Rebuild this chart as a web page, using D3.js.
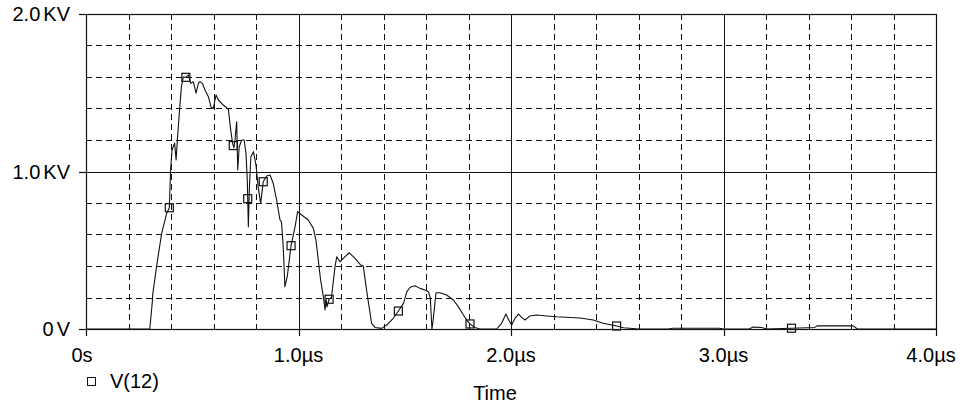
<!DOCTYPE html>
<html>
<head>
<meta charset="utf-8">
<script src="https://cdn.jsdelivr.net/npm/d3@7"></script>
<style>
  html, body { margin: 0; padding: 0; background: #fff; }
  svg { display: block; }
  text { font-family: "Liberation Sans", Arial, Helvetica, sans-serif; fill: #000; }
</style>
</head>
<body>
<svg id="chart" width="966" height="404"></svg>
<script>
// Transient voltage V(12): time in microseconds, voltage in kilovolts
const timeUs = [
  0, 0.30, 0.312, 0.314, 0.332, 0.356, 0.380, 0.392, 0.398, 0.405, 0.411, 0.417, 0.424, 0.430,
  0.439, 0.449, 0.458, 0.470, 0.482, 0.493, 0.505, 0.518, 0.529, 0.536, 0.549, 0.560,
  0.576, 0.588, 0.599, 0.612, 0.623, 0.646, 0.670, 0.681, 0.690, 0.696, 0.701, 0.709,
  0.714, 0.721, 0.733, 0.744, 0.753, 0.759, 0.764, 0.769, 0.776, 0.788, 0.800, 0.811,
  0.822, 0.834, 0.850, 0.866, 0.881, 0.897, 0.913, 0.920, 0.928, 0.936, 0.947, 0.965,
  0.984, 0.996, 1.015, 1.046, 1.070, 1.082, 1.093, 1.104, 1.117, 1.125, 1.130, 1.134,
  1.144, 1.155, 1.172, 1.180, 1.195, 1.219, 1.239, 1.266, 1.293, 1.305, 1.320, 1.344,
  1.360, 1.391, 1.415, 1.446, 1.470, 1.494, 1.510, 1.525, 1.548, 1.572, 1.595, 1.611,
  1.620, 1.628, 1.634, 1.647, 1.666, 1.697, 1.729, 1.752, 1.776, 1.795, 1.807, 1.830,
  1.854, 1.933, 1.956, 1.976, 1.990, 2.003, 2.019, 2.035, 2.050, 2.066, 2.089, 2.121,
  2.168, 2.215, 2.325, 2.387, 2.434, 2.474, 2.497, 2.530, 2.600, 2.740, 2.760, 2.980,
  3.000, 3.120, 3.140, 3.180, 3.200, 3.320, 3.430, 3.440, 3.610, 3.630, 4.000
];
const voltageKV = [
  0, 0, 0.17, 0.22, 0.396, 0.607, 0.735, 0.77, 1.01, 1.137, 1.16, 1.18, 1.073, 1.20,
  1.369, 1.539, 1.60, 1.598, 1.613, 1.56, 1.57, 1.497, 1.56, 1.571, 1.556, 1.517,
  1.475, 1.41, 1.40, 1.486, 1.454, 1.422, 1.395, 1.263, 1.179, 1.15, 1.20, 1.316,
  1.01, 1.157, 1.20, 1.20, 1.115, 0.946, 0.65, 0.90, 1.094, 1.126, 1.04, 0.893,
  0.798, 0.935, 0.971, 0.978, 0.925, 0.819, 0.692, 0.68, 0.523, 0.269, 0.332, 0.529,
  0.65, 0.745, 0.724, 0.692, 0.639, 0.565, 0.438, 0.311, 0.205, 0.121, 0.19, 0.14,
  0.189, 0.20, 0.396, 0.459, 0.427, 0.459, 0.484, 0.448, 0.406, 0.40, 0.25, 0.036,
  0.01, 0.004, 0.025, 0.068, 0.114, 0.163, 0.237, 0.265, 0.275, 0.258, 0.248, 0.237,
  0.20, 0.0, 0.06, 0.23, 0.23, 0.216, 0.184, 0.142, 0.089, 0.05, 0.032, 0.01,
  0, 0, 0.036, 0.095, 0.055, 0.025, 0.068, 0.095, 0.074, 0.057, 0.083, 0.089,
  0.083, 0.078, 0.07, 0.057, 0.036, 0.025, 0.019, 0.008, 0, 0, 0.005, 0.005,
  0, 0, 0.012, 0.01, 0, 0.005, 0.01, 0.02, 0.02, 0, 0
];
// Trace marker positions (time, us)
const markerTimes = [0.392, 0.47, 0.693, 0.761, 0.834, 0.965, 1.144, 1.47, 1.807, 2.497, 3.32];

// Axis ticks and labels
const xTicks = [0, 1, 2, 3, 4];
const xTickLabels = ["0s", "1.0\u00b5s", "2.0\u00b5s", "3.0\u00b5s", "4.0\u00b5s"];
const yTicks = [0, 1, 2];
const yTickNumbers = ["0", "1.0", "2.0"];
const yTickUnit = "V";
const yTickPrefix = ["", "K", "K"];
const legendLabel = "V(12)";
const xAxisTitle = "Time";

const svg = d3.select("#chart");
const plotL = 86, plotR = 936, plotT = 14, plotB = 329;

const x = d3.scaleLinear().domain([0, 4]).range([plotL, plotR]);
const y = d3.scaleLinear().domain([0, 2]).range([plotB, plotT]);

// Dashed minor grid
const xMinor = d3.range(1, 20).map(i => i * 0.2).filter(v => Math.abs(v - Math.round(v)) > 1e-6);
const yMinor = d3.range(1, 10).map(i => i * 0.2).filter(v => Math.abs(v - Math.round(v)) > 1e-6);

const grid = svg.append("g");
grid.selectAll("line.vx").data(xMinor).join("line")
  .attr("x1", d => Math.round(x(d)) + 0.5).attr("x2", d => Math.round(x(d)) + 0.5)
  .attr("y1", plotT).attr("y2", plotB)
  .attr("stroke", "#111").attr("stroke-width", 1).attr("stroke-dasharray", "6,4");
grid.selectAll("line.hy").data(yMinor).join("line")
  .attr("x1", plotL).attr("x2", plotR)
  .attr("y1", d => Math.round(y(d)) + 0.5).attr("y2", d => Math.round(y(d)) + 0.5)
  .attr("stroke", "#111").attr("stroke-width", 1).attr("stroke-dasharray", "6,4");

// Solid major grid
grid.selectAll("line.vmaj").data([1, 2, 3]).join("line")
  .attr("x1", d => Math.round(x(d)) + 0.5).attr("x2", d => Math.round(x(d)) + 0.5)
  .attr("y1", plotT).attr("y2", plotB + 7)
  .attr("stroke", "#111").attr("stroke-width", 1);
grid.selectAll("line.hmaj").data([1]).join("line")
  .attr("x1", plotL - 7).attr("x2", plotR)
  .attr("y1", d => Math.round(y(d)) + 0.5).attr("y2", d => Math.round(y(d)) + 0.5)
  .attr("stroke", "#111").attr("stroke-width", 1);

// Frame
svg.append("rect")
  .attr("x", plotL + 0.5).attr("y", plotT + 0.5)
  .attr("width", plotR - plotL).attr("height", plotB - plotT)
  .attr("fill", "none").attr("stroke", "#111").attr("stroke-width", 1.2);

// Tick marks
svg.append("g").selectAll("line").data(xTicks).join("line")
  .attr("x1", d => Math.round(x(d)) + 0.5).attr("x2", d => Math.round(x(d)) + 0.5)
  .attr("y1", plotB).attr("y2", plotB + 7)
  .attr("stroke", "#111").attr("stroke-width", 1.2);
svg.append("g").selectAll("line").data(yTicks).join("line")
  .attr("x1", plotL - 7).attr("x2", plotL)
  .attr("y1", d => Math.round(y(d)) + 0.5).attr("y2", d => Math.round(y(d)) + 0.5)
  .attr("stroke", "#111").attr("stroke-width", 1.2);

// Tick labels
svg.append("g").selectAll("text").data(xTicks).join("text")
  .attr("x", d => x(d) - (d === 0 ? 4 : (d === 4 ? 5 : 0)))
  .attr("y", 362)
  .attr("text-anchor", "middle")
  .attr("font-size", 20)
  .text((d, i) => xTickLabels[i]);

const yl = svg.append("g").selectAll("text").data(yTicks).join("text")
  .attr("x", 70)
  .attr("y", d => y(d) + 7)
  .attr("text-anchor", "end")
  .attr("font-size", 20);
yl.append("tspan").text((d, i) => yTickNumbers[i]);
yl.append("tspan").attr("dx", 3).text((d, i) => yTickPrefix[i] + yTickUnit);

// Trace
const series = timeUs.map((t, i) => ({ t, v: voltageKV[i] }));
const line = d3.line().x(d => x(d.t)).y(d => y(d.v));
svg.append("path")
  .datum(series)
  .attr("d", line)
  .attr("fill", "none")
  .attr("stroke", "#111")
  .attr("stroke-width", 1.1)
  .attr("stroke-linejoin", "round");

// Markers placed on the trace
const bis = d3.bisector(d => d.t).left;
function valueAt(t) {
  const i = Math.max(1, Math.min(series.length - 1, bis(series, t)));
  const a = series[i - 1], b = series[i];
  const f = (t - a.t) / (b.t - a.t);
  return a.v + f * (b.v - a.v);
}
svg.append("g").selectAll("rect").data(markerTimes).join("rect")
  .attr("x", d => x(d) - 4).attr("y", d => y(valueAt(d)) - 4)
  .attr("width", 8).attr("height", 8)
  .attr("fill", "none").attr("stroke", "#111").attr("stroke-width", 1.2);

// Legend
svg.append("rect")
  .attr("x", 87.5).attr("y", 377.5).attr("width", 8).attr("height", 8)
  .attr("fill", "none").attr("stroke", "#111").attr("stroke-width", 1);
svg.append("text")
  .attr("x", 110).attr("y", 388)
  .attr("font-size", 20)
  .text(legendLabel);

// Axis title
svg.append("text")
  .attr("x", 495).attr("y", 400)
  .attr("text-anchor", "middle")
  .attr("font-size", 20)
  .text(xAxisTitle);
</script>
</body>
</html>
